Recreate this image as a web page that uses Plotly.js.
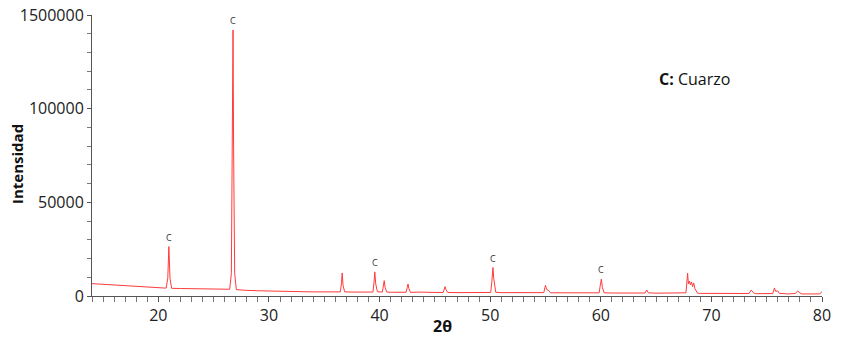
<!DOCTYPE html>
<html>
<head>
<meta charset="utf-8">
<script src="https://cdn.plot.ly/plotly-3.0.1.min.js"></script>
<style>html,body{margin:0;padding:0;background:#fff;}#chart{width:852px;height:342px;}</style>
</head>
<body>
<div id="chart"></div>
<script>
const twoTheta = [
  14.0, 15.0, 16.0, 17.0, 18.0, 19.0, 20.0, 20.7, 20.85, 20.95, 21.05, 21.2,
  22.0, 23.0, 24.0, 25.0, 26.0, 26.45, 26.6, 26.7, 26.75, 26.8, 26.9, 27.05,
  27.3, 28.0, 29.0, 30.0, 31.0, 32.0, 33.0, 34.0, 35.0, 36.0, 36.45, 36.55,
  36.62, 36.7, 36.85, 37.5, 38.0, 39.0, 39.4, 39.5, 39.57, 39.65, 39.8, 40.25,
  40.35, 40.42, 40.5, 40.65, 41.0, 42.0, 42.4, 42.5, 42.57, 42.65, 42.8, 43.5,
  44.0, 45.0, 45.75, 45.85, 45.92, 46.0, 46.15, 47.0, 48.0, 49.0, 50.05, 50.15,
  50.25, 50.32, 50.38, 50.5, 51.0, 52.0, 53.0, 54.0, 54.85, 54.95, 55.0, 55.1,
  55.3, 55.45, 56.0, 57.0, 58.0, 59.0, 59.85, 59.95, 60.05, 60.15, 60.3, 61.0,
  62.0, 63.0, 64.0, 64.15, 64.3, 65.0, 66.0, 67.0, 67.7, 67.8, 67.85, 67.92,
  68.0, 68.1, 68.2, 68.3, 68.4, 68.5, 68.6, 68.75, 69.0, 70.0, 71.0, 72.0,
  73.4, 73.6, 73.8, 74.0, 75.0, 75.55, 75.7, 75.8, 76.0, 76.15, 77.0, 77.6,
  77.8, 78.0, 78.2, 79.0, 79.8, 80.0
];
const intensity = [
  6600, 6200, 5800, 5400, 5000, 4700, 4400, 4200, 9500, 26400, 9500, 4100,
  4000, 3900, 3800, 3700, 3600, 3600, 12000, 80000, 142000, 80000, 12000, 3400,
  3200, 3000, 2800, 2600, 2500, 2400, 2300, 2200, 2200, 2100, 2200, 6500,
  12300, 5500, 2200, 2100, 2000, 2000, 2100, 7500, 12900, 6500, 2300, 2100,
  5500, 8200, 4500, 2100, 2000, 1900, 2000, 4500, 6400, 4000, 1900, 2100,
  1900, 1900, 1900, 3500, 5000, 3500, 1900, 1800, 1900, 1800, 1900, 7500,
  15200, 9500, 6500, 2000, 1800, 1700, 1700, 1700, 1800, 4500, 5700, 3500,
  2900, 1700, 1700, 1600, 1600, 1600, 1700, 5500, 9000, 4500, 1700, 1600,
  1550, 1500, 1600, 3200, 1700, 1500, 1500, 1450, 1700, 8500, 12200, 6500,
  8000, 6000, 7500, 5000, 7000, 4000, 3000, 1500, 1400, 1400, 1350, 1300,
  1350, 3200, 1700, 1250, 1200, 1300, 4300, 2500, 2700, 1400, 1100, 1400,
  2700, 1600, 1100, 1000, 1100, 2500
];
// Quartz peak markers
const markerX = [20.95, 26.75, 39.57, 50.25, 60.05];
const markerY = [26400, 142000, 12900, 15200, 9000];
const markerLabel = ['C', 'C', 'C', 'C', 'C'];
// Axis ticks
const yTickVals = [0, 50000, 100000, 150000];
const yTickText = ['0', '50000', '100000', '1500000'];
const xTickVals = [20, 30, 40, 50, 60, 70, 80];

const font = '"Open Sans", "Noto Sans", sans-serif';
const W = 852, H = 342, ML = 92, MR = 30, MT = 15, MB = 46;
const pw = W - ML - MR, ph = H - MT - MB;
const px = v => (v - ML) / pw;
const py = v => (H - MB - v) / ph;

const trace = {
  x: twoTheta, y: intensity, type: 'scatter', mode: 'lines',
  line: {color: '#ff3b3b', width: 1}, hoverinfo: 'skip'
};

const annotations = markerX.map((x, i) => ({
  x: x, y: markerY[i], xref: 'x', yref: 'y', text: markerLabel[i],
  showarrow: false, yanchor: 'bottom', yshift: 1,
  font: {family: font, size: 9, color: '#333'}
}));
annotations.push({
  x: 65.1, y: 115800, xref: 'x', yref: 'y', xanchor: 'left', yanchor: 'middle',
  text: '<b>C:</b> Cuarzo', showarrow: false,
  font: {family: font, size: 16, color: '#111'}
});
annotations.push({
  x: px(442), y: py(325.5), xref: 'paper', yref: 'paper', text: '<b>2θ</b>',
  xanchor: 'center', yanchor: 'middle',
  showarrow: false, font: {family: font, size: 16, color: '#111'}
});
annotations.push({
  x: px(17), y: py(164), xref: 'paper', yref: 'paper', text: '<b>Intensidad</b>',
  xanchor: 'center', yanchor: 'middle', textangle: -90,
  showarrow: false, font: {family: font, size: 15, color: '#111'}
});

const layout = {
  width: W, height: H,
  margin: {l: ML, r: MR, t: MT, b: MB},
  paper_bgcolor: '#fff', plot_bgcolor: '#fff',
  showlegend: false,
  xaxis: {
    range: [14, 80], tickvals: xTickVals, ticks: 'outside', ticklen: 5,
    tickcolor: '#555', showline: true, linecolor: '#555', linewidth: 1,
    showgrid: false, zeroline: false,
    minor: {dtick: 1, ticks: 'outside', ticklen: 5, tickcolor: '#777'},
    tickfont: {family: font, size: 16, color: '#222'}
  },
  yaxis: {
    range: [0, 150000], tickvals: yTickVals, ticktext: yTickText,
    ticks: 'outside', ticklen: 4, tickcolor: '#555',
    showline: true, linecolor: '#555', linewidth: 1,
    showgrid: false, zeroline: false,
    minor: {dtick: 10000, ticks: 'outside', ticklen: 4, tickcolor: '#777'},
    tickfont: {family: font, size: 16, color: '#222'}
  },
  annotations: annotations
};

Plotly.newPlot('chart', [trace], layout, {displayModeBar: false, staticPlot: true});
</script>
</body>
</html>
